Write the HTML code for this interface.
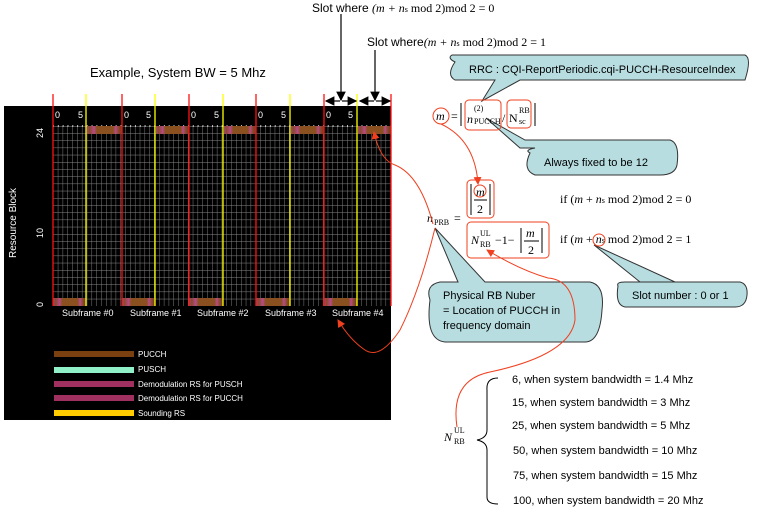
<!DOCTYPE html>
<html><head><meta charset="utf-8"><style>
body{margin:0;background:#fff;}
svg{display:block;font-family:"Liberation Sans",sans-serif;}
.s{font-family:"Liberation Serif",serif;}
</style></head><body>
<svg width="759" height="513" viewBox="0 0 759 513" xmlns="http://www.w3.org/2000/svg">
<defs>
<pattern id="g" x="53" y="126" width="4.82" height="7.2" patternUnits="userSpaceOnUse">
<path d="M0 0H4.82M0 0V7.2" stroke="#8a8a8a" stroke-width="0.9" fill="none"/>
</pattern>
<linearGradient id="pc" x1="0" x2="1">
<stop offset="0" stop-color="#a04878"/><stop offset="0.08" stop-color="#8a4a2a"/><stop offset="0.2" stop-color="#b84a8a"/><stop offset="0.28" stop-color="#8a5020"/><stop offset="0.75" stop-color="#8a5020"/><stop offset="0.82" stop-color="#b84a8a"/><stop offset="0.9" stop-color="#8a4a2a"/><stop offset="1" stop-color="#6a3a2a"/>
</linearGradient>
<marker id="ah" markerWidth="8" markerHeight="8" refX="7" refY="4" orient="auto"><path d="M0 0L8 4L0 8z" fill="#000"/></marker>
<marker id="ar" markerWidth="8" markerHeight="8" refX="7" refY="4" orient="auto"><path d="M0 0L8 4L0 8z" fill="#f04020"/></marker>
</defs>
<text x="90" y="77" font-size="13">Example, System BW = 5 Mhz</text>
<rect x="4" y="106" width="387" height="314" fill="#000"/>
<rect x="53" y="126" width="338" height="180" fill="url(#g)"/>
<line x1="53" y1="126" x2="391" y2="126" stroke="#fff" stroke-width="1.5" stroke-dasharray="1 3.82"/>
<g fill="url(#pc)">
<rect x="87" y="126" width="35" height="8"/><rect x="156" y="126" width="33" height="8"/><rect x="224" y="126" width="32" height="8"/><rect x="291" y="126" width="33" height="8"/><rect x="358" y="126" width="33" height="8"/>
<rect x="53" y="298" width="33" height="8"/><rect x="122" y="298" width="33" height="8"/><rect x="189" y="298" width="34" height="8"/><rect x="256" y="298" width="34" height="8"/><rect x="324" y="298" width="33" height="8"/>
</g>
<g stroke="#ff1010" stroke-width="1.3"><line x1="53" y1="94" x2="53" y2="306"/><line x1="122" y1="94" x2="122" y2="306"/><line x1="189" y1="94" x2="189" y2="306"/><line x1="256" y1="94" x2="256" y2="306"/><line x1="324" y1="94" x2="324" y2="306"/><line x1="391" y1="94" x2="391" y2="306"/></g>
<g stroke="#ffff00" stroke-width="1.3"><line x1="86" y1="94" x2="86" y2="306"/><line x1="155" y1="94" x2="155" y2="306"/><line x1="223" y1="94" x2="223" y2="306"/><line x1="290" y1="94" x2="290" y2="306"/><line x1="357" y1="94" x2="357" y2="306"/></g>
<g fill="#fff" font-size="9">
<text x="55" y="118">0</text><text x="78" y="118">5</text><text x="124" y="118">0</text><text x="146" y="118">5</text><text x="191" y="118">0</text><text x="214" y="118">5</text><text x="258" y="118">0</text><text x="281" y="118">5</text><text x="326" y="118">0</text><text x="348" y="118">5</text>
<text x="62" y="316">Subframe #0</text><text x="130" y="316">Subframe #1</text><text x="197" y="316">Subframe #2</text><text x="265" y="316">Subframe #3</text><text x="332" y="316">Subframe #4</text>
<text transform="translate(43,138) rotate(-90)">24</text><text transform="translate(43,238) rotate(-90)">10</text><text transform="translate(43,307) rotate(-90)">0</text>
<text transform="translate(16,258) rotate(-90)" font-size="10">Resource Block</text>
</g>
<g font-size="8" fill="#fff">
<rect x="54" y="351" width="80" height="6" fill="#7a4010"/><text x="138" y="357">PUCCH</text>
<rect x="54" y="367" width="80" height="6" fill="#90f0c8"/><text x="138" y="372">PUSCH</text>
<rect x="54" y="381" width="80" height="6" fill="#a03060"/><text x="138" y="387">Demodulation RS for PUSCH</text>
<rect x="54" y="395" width="80" height="6" fill="#a03060"/><text x="138" y="401">Demodulation RS for PUCCH</text>
<rect x="54" y="410" width="80" height="6" fill="#ffcc00"/><text x="138" y="416">Sounding RS</text>
</g>
<g stroke="#000" stroke-width="1.2">
<line x1="341" y1="14" x2="341" y2="100" marker-end="url(#ah)"/>
<line x1="375" y1="50" x2="375" y2="100" marker-end="url(#ah)"/>
<line x1="340" y1="101" x2="326" y2="101" marker-end="url(#ah)"/><line x1="342" y1="101" x2="356" y2="101" marker-end="url(#ah)"/>
<line x1="374" y1="101" x2="360" y2="101" marker-end="url(#ah)"/><line x1="376" y1="101" x2="390" y2="101" marker-end="url(#ah)"/>
</g>
<text x="312" y="12" font-size="12">Slot where <tspan class="s" font-style="italic">(m + n</tspan><tspan class="s" font-size="8">s</tspan><tspan class="s"> mod 2)mod 2 = 0</tspan></text>
<text x="367" y="46" font-size="12">Slot where<tspan class="s" font-style="italic">(m + n</tspan><tspan class="s" font-size="8">s</tspan><tspan class="s"> mod 2)mod 2 = 1</tspan></text>
<g fill="#b7dde0" stroke="#333" stroke-width="1">
<path d="M455 62 Q447 58 452 55 L745 55 Q752 58 745 80 L520 80 L482 101 L495 80 L455 80 Q446 75 455 62Z"/>
<path d="M530 153 Q524 150 535 148 L520 148 L486 118 L525 140 L670 140 Q680 143 677 165 Q675 175 660 175 L535 175 Q522 170 530 153Z" />
<path d="M430 300 Q425 285 440 282 L458 282 L435 228 L485 282 L590 282 Q605 285 602 310 Q600 342 585 342 L445 342 Q425 340 430 300Z"/>
<path d="M618 286 Q616 282 625 282 L675 282 L594 245 L640 282 L740 282 Q748 284 747 295 Q746 307 735 307 L625 307 Q615 305 618 286Z"/>
</g>
<g font-size="11" fill="#000">
<text x="469" y="73">RRC : CQI-ReportPeriodic.cqi-PUCCH-ResourceIndex</text>
<text x="544" y="166">Always fixed to be 12</text>
<text x="443" y="299">Physical RB Nuber</text><text x="443" y="314">= Location of PUCCH in</text><text x="443" y="329">frequency domain</text>
<text x="632" y="299">Slot number : 0 or 1</text>
</g>
<g class="s" font-size="12">
<circle cx="441" cy="116" r="8" fill="none" stroke="#f04020"/>
<text x="436" y="120" font-style="italic">m</text><text x="451" y="120">=</text>
<line x1="461" y1="103" x2="461" y2="126" stroke="#000"/><line x1="535" y1="103" x2="535" y2="126" stroke="#000"/>
<rect x="465" y="100" width="36" height="30" rx="4" fill="none" stroke="#f04020"/>
<rect x="507" y="100" width="24" height="28" rx="4" fill="none" stroke="#f04020"/>
<text x="467" y="123" font-style="italic">n</text><text x="474" y="111" font-size="8">(2)</text><text x="474" y="124" font-size="8">PUCCH</text>
<text x="502" y="122">/</text><text x="509" y="122">N</text><text x="519" y="113" font-size="8">RB</text><text x="519" y="124" font-size="8">sc</text>
<rect x="467" y="180" width="27" height="38" rx="4" fill="none" stroke="#f04020"/>
<circle cx="480" cy="191" r="6" fill="none" stroke="#f04020"/>
<text x="476" y="196" font-style="italic">m</text><line x1="474" y1="200" x2="487" y2="200" stroke="#000"/><text x="477" y="213">2</text>
<line x1="471" y1="184" x2="471" y2="215" stroke="#000"/><line x1="490" y1="184" x2="490" y2="215" stroke="#000"/>
<rect x="467" y="222" width="82" height="36" rx="4" fill="none" stroke="#f04020"/>
<text x="471" y="244" font-style="italic">N</text><text x="480" y="236" font-size="8">UL</text><text x="480" y="247" font-size="8">RB</text>
<text x="495" y="244">−1−</text><line x1="521" y1="228" x2="521" y2="253" stroke="#000"/><line x1="542" y1="228" x2="542" y2="253" stroke="#000"/>
<text x="526" y="237" font-style="italic">m</text><line x1="524" y1="241" x2="539" y2="241" stroke="#000"/><text x="528" y="254">2</text>
<text x="427" y="222" font-style="italic">n</text><text x="434" y="225" font-size="8">PRB</text><text x="454" y="222">=</text>
<text x="560" y="203">if (<tspan font-style="italic">m</tspan> + <tspan font-style="italic">n</tspan><tspan font-size="8">s</tspan> mod 2)mod 2 = 0</text>
<text x="560" y="243">if (<tspan font-style="italic">m</tspan> + <tspan font-style="italic">n</tspan><tspan font-size="8">s</tspan> mod 2)mod 2 = 1</text>
<circle cx="599" cy="240" r="6" fill="none" stroke="#f04020"/>
<text x="444" y="441" font-style="italic">N</text><text x="454" y="433" font-size="8">UL</text><text x="454" y="444" font-size="8">RB</text>
</g>
<path d="M498 378 Q486 378 487 390 L487 430 Q487 438 477 440 Q487 442 487 450 L487 497 Q487 504 498 504" fill="none" stroke="#000"/>
<g font-size="11">
<text x="512" y="383">6, when system bandwidth = 1.4 Mhz</text>
<text x="512" y="406">15, when system bandwidth = 3 Mhz</text>
<text x="512" y="429">25, when system bandwidth = 5 Mhz</text>
<text x="513" y="454">50, when system bandwidth = 10 Mhz</text>
<text x="513" y="479">75, when system bandwidth = 15 Mhz</text>
<text x="513" y="504">100, when system bandwidth = 20 Mhz</text>
</g>
<g fill="none" stroke="#f04020" stroke-width="1">
<path d="M441 124 Q475 140 478 184" marker-end="url(#ar)"/>
<path d="M433 224 Q420 175 395 165 Q380 160 374 132" marker-end="url(#ar)"/>
<path d="M435 228 Q420 290 400 330 Q380 360 365 350 Q350 340 338 320" marker-end="url(#ar)"/>
<path d="M457 427 Q450 380 490 372 Q570 355 575 320 Q575 280 548 278 Q520 270 487 250" marker-end="url(#ar)"/>
</g>
</svg>
</body></html>
